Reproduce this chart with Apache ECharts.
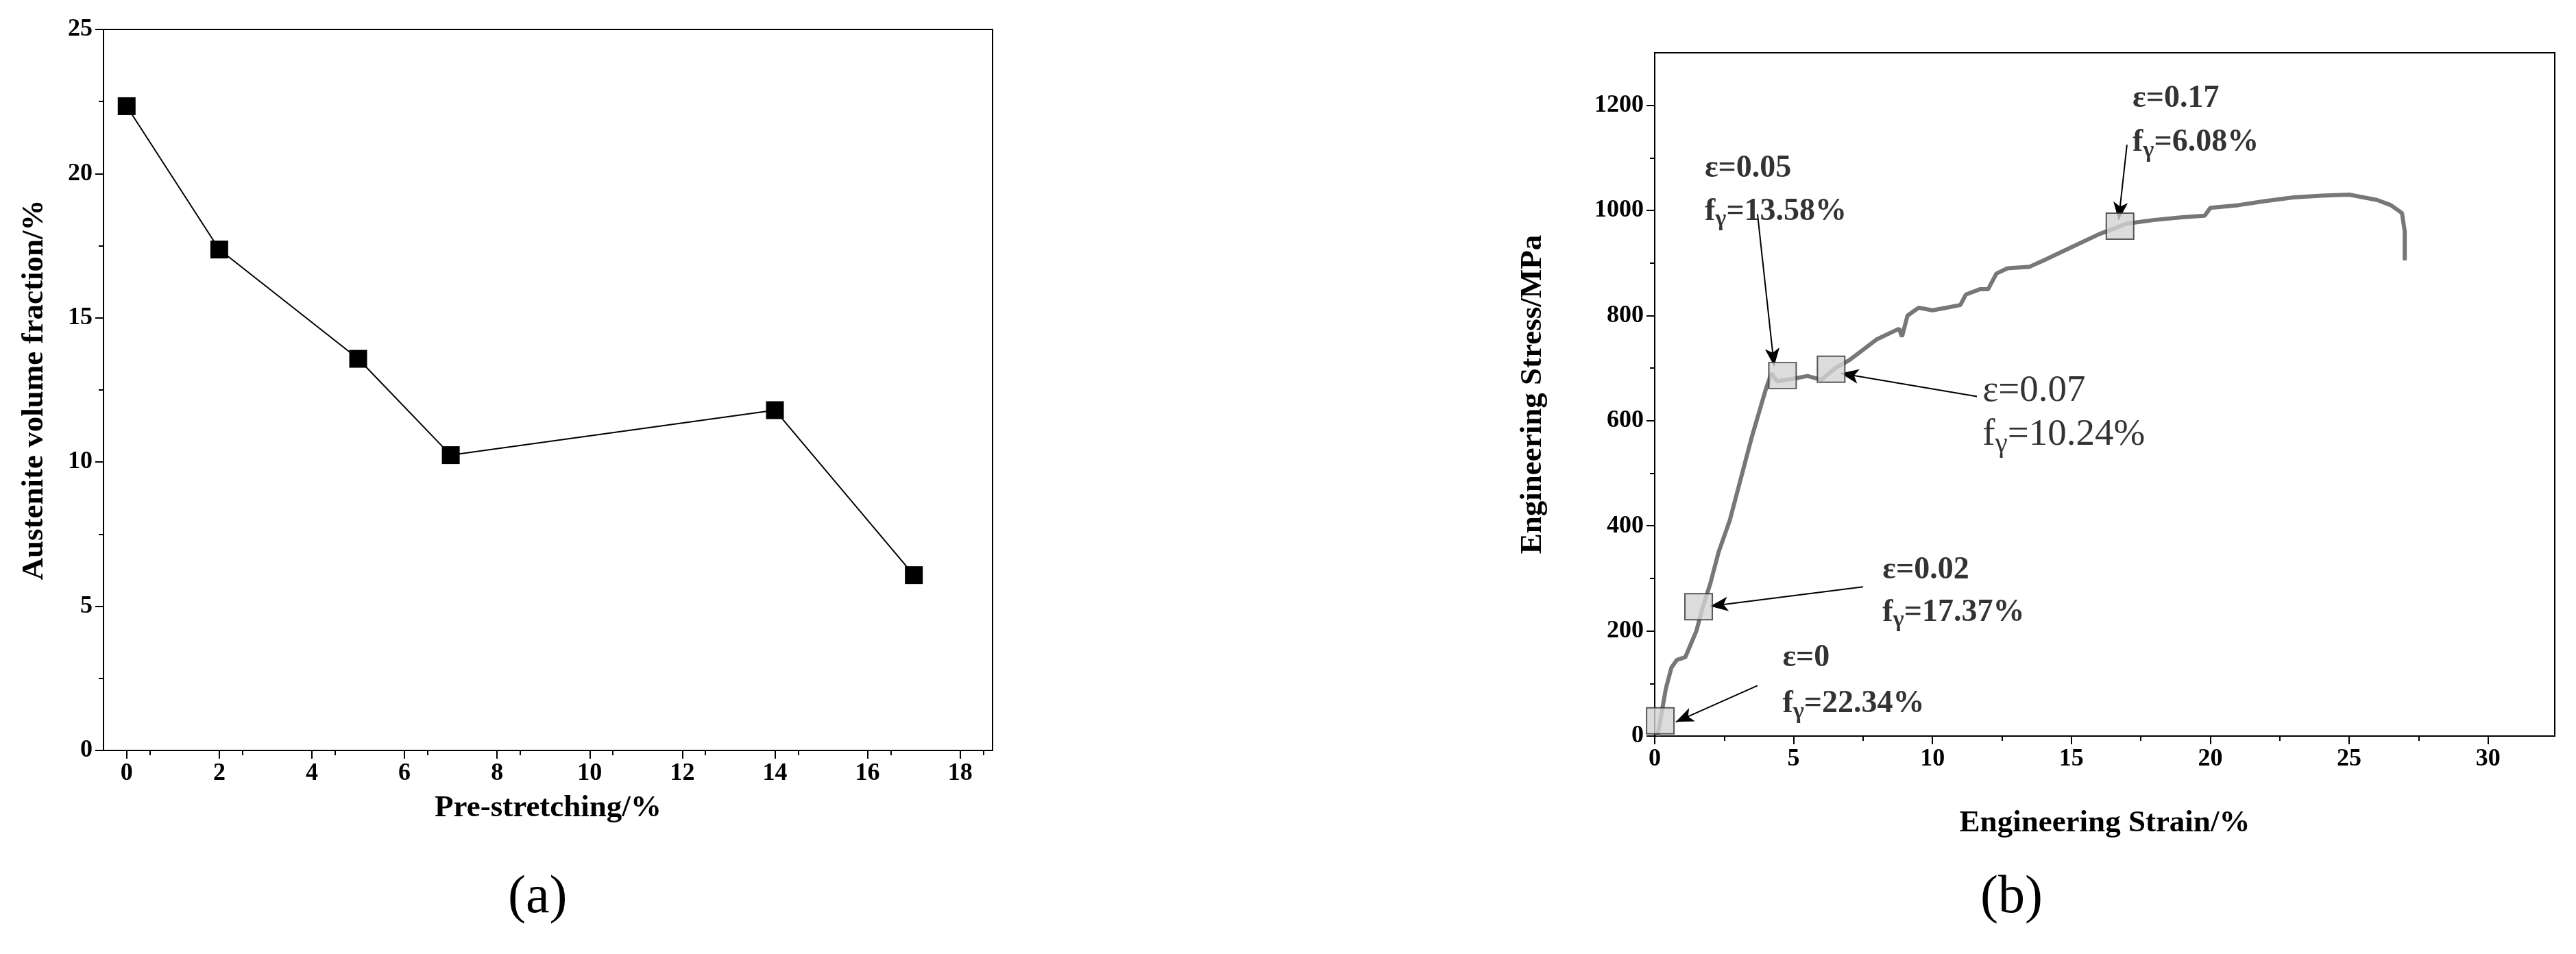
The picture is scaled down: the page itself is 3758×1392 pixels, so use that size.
<!DOCTYPE html>
<html><head><meta charset="utf-8">
<script src="https://cdn.jsdelivr.net/npm/echarts@6/dist/echarts.min.js"></script>
<style>html,body{margin:0;background:#fff}#c{width:3758px;height:1392px}</style>
</head><body><div id="c"></div>
<script>
const preStretch = [0, 2, 5, 7, 14, 17];
const austenite = [22.34, 17.37, 13.58, 10.24, 11.8, 6.08];
const curve = [[0.1,0],[0.2,30],[0.4,90],[0.6,130],[0.8,145],[1.1,150],[1.3,175],[1.5,200],[1.7,240],[2,290],[2.3,350],[2.7,410],[3,470],[3.5,570],[4,660],[4.2,690],[4.4,675],[5,680],[5.5,685],[6,678],[6.5,700],[7,715],[7.5,735],[8,755],[8.8,775],[8.9,760],[9.1,800],[9.5,815],[10,810],[10.5,815],[11,820],[11.2,840],[11.7,850],[12,850],[12.3,880],[12.7,890],[13.5,893],[14,905],[15,930],[16,955],[17,975],[18,982],[19,987],[19.8,990],[20,1005],[21,1010],[22,1018],[23,1025],[24,1028],[25,1030],[26,1020],[26.5,1010],[26.9,995],[27,960],[27,905]];
const markPts = [[0.2,29],[1.58,246],[4.6,686],[6.35,698],[16.75,970]];
const eLabels = [['ε=0',4.6,148,'f{s|γ}=22.34%',61],['ε=0.02',8.2,316,'f{s|γ}=17.37%',235],['ε=0.05',1.8,1079,'f{s|γ}=13.58%',998],['ε=0.17',17.2,1212,'f{s|γ}=6.08%',1129]];
const bigLabel = ['ε=0.07',11.8,657,'f{s|γ}=10.24%',573];
const arrows = [[[3.7,96],[0.76,27]],[[7.5,284],[2.0,247]],[[3.7,993],[4.3,704]],[[11.6,646],[6.7,690]],[[17.0,1125],[16.7,982]]];

const F = 'Liberation Serif';
const tickLab = {fontFamily:F,fontWeight:'bold',fontSize:36,color:'#000',formatter:v=>String(v)};
const nameSt = {fontFamily:F,fontWeight:'bold',fontSize:45,color:'#000'};
const axLine = {show:true,onZero:false,lineStyle:{color:'#000',width:2}};
function txt(data, size, weight){
  return {type:'scatter',xAxisIndex:1,yAxisIndex:1,symbolSize:0,silent:true,
    data:data.map(d=>({value:[d[1],d[2]],label:{formatter:d[0]}})),
    label:{show:true,position:'right',distance:0,fontFamily:F,fontWeight:weight,fontSize:size,color:'#000',
      rich:{s:{fontFamily:F,fontWeight:weight,fontSize:size*0.75,padding:[size*0.5,0,0,0]}}}};
}
const labs=[];
eLabels.forEach(l=>{labs.push([l[0],l[1],l[2]]);labs.push([l[3],l[1],l[4]]);});
const big=[[bigLabel[0],bigLabel[1],bigLabel[2]],[bigLabel[3],bigLabel[1],bigLabel[4]]];
const chart = echarts.init(document.getElementById('c'));
chart.setOption({
  animation:false,
  grid:[{left:151,right:2310,top:43,bottom:297,show:true,borderColor:'#000',borderWidth:2},
        {left:2414,right:31,top:77,bottom:318,show:true,borderColor:'#000',borderWidth:2}],
  xAxis:[{gridIndex:0,type:'value',position:'bottom',min:-0.5,max:18.7,interval:2,splitLine:{show:false},axisLine:axLine,
      axisTick:{show:true,length:12,lineStyle:{width:2},customValues:[0,2,4,6,8,10,12,14,16,18]},
      minorTick:{show:true,splitNumber:2,length:7,lineStyle:{color:'#000',width:2}},
      axisLabel:{...tickLab,margin:16,customValues:[0,2,4,6,8,10,12,14,16,18]},
      name:'Pre-stretching/%',nameLocation:'middle',nameGap:62,nameTextStyle:nameSt},
    {gridIndex:1,type:'value',position:'bottom',min:0,max:32.4,interval:5,splitLine:{show:false},axisLine:axLine,
      axisTick:{show:true,length:12,lineStyle:{width:2},customValues:[0,5,10,15,20,25,30]},
      minorTick:{show:true,splitNumber:2,length:7,lineStyle:{color:'#000',width:2}},
      axisLabel:{...tickLab,margin:16,customValues:[0,5,10,15,20,25,30]},
      name:'Engineering Strain/%',nameLocation:'middle',nameGap:105,nameTextStyle:nameSt}],
  yAxis:[{gridIndex:0,type:'value',position:'left',min:0,max:25,interval:5,splitLine:{show:false},axisLine:axLine,
      axisTick:{show:true,length:12,lineStyle:{width:2}},minorTick:{show:true,splitNumber:2,length:7,lineStyle:{color:'#000',width:2}},
      axisLabel:{...tickLab,margin:16},
      name:'Austenite volume fraction/%',nameLocation:'middle',nameGap:78,nameTextStyle:nameSt},
    {gridIndex:1,type:'value',position:'left',min:0,max:1300,interval:200,splitLine:{show:false},axisLine:axLine,
      axisTick:{show:true,length:12,lineStyle:{width:2},customValues:[0,200,400,600,800,1000,1200]},
      minorTick:{show:true,splitNumber:2,length:7,lineStyle:{color:'#000',width:2}},
      axisLabel:{...tickLab,margin:16,customValues:[0,200,400,600,800,1000,1200]},
      name:'Engineering Stress/MPa',nameLocation:'middle',nameGap:155,nameTextStyle:nameSt}],
  series:[
    {type:'line',xAxisIndex:0,yAxisIndex:0,data:preStretch.map((x,i)=>[x,austenite[i]]),
      symbol:'rect',symbolSize:26,itemStyle:{color:'#000'},lineStyle:{color:'#000',width:2}},
    {type:'line',xAxisIndex:1,yAxisIndex:1,data:curve,symbol:'none',lineStyle:{color:'#777',width:6},
      markLine:{silent:true,symbol:['none','arrow'],symbolSize:[16,26],label:{show:false},
        lineStyle:{color:'#000',width:2,type:'solid'},
        data:arrows.map(a=>[{coord:a[0]},{coord:a[1]}])}},
    {type:'scatter',xAxisIndex:1,yAxisIndex:1,data:markPts,symbol:'rect',symbolSize:[40,38],
      itemStyle:{color:'#d3d3d3',borderColor:'#333',borderWidth:2},z:5},
    txt(labs,46,'bold'),
    txt(big,55,'normal')
  ],
  graphic:[
    {type:'text',left:781-40,top:1272,style:{text:'(a)',font:'78px "Liberation Serif"',fill:'#000'}},
    {type:'text',left:2929-40,top:1272,style:{text:'(b)',font:'78px "Liberation Serif"',fill:'#000'}}
  ]
});
</script></body></html>
